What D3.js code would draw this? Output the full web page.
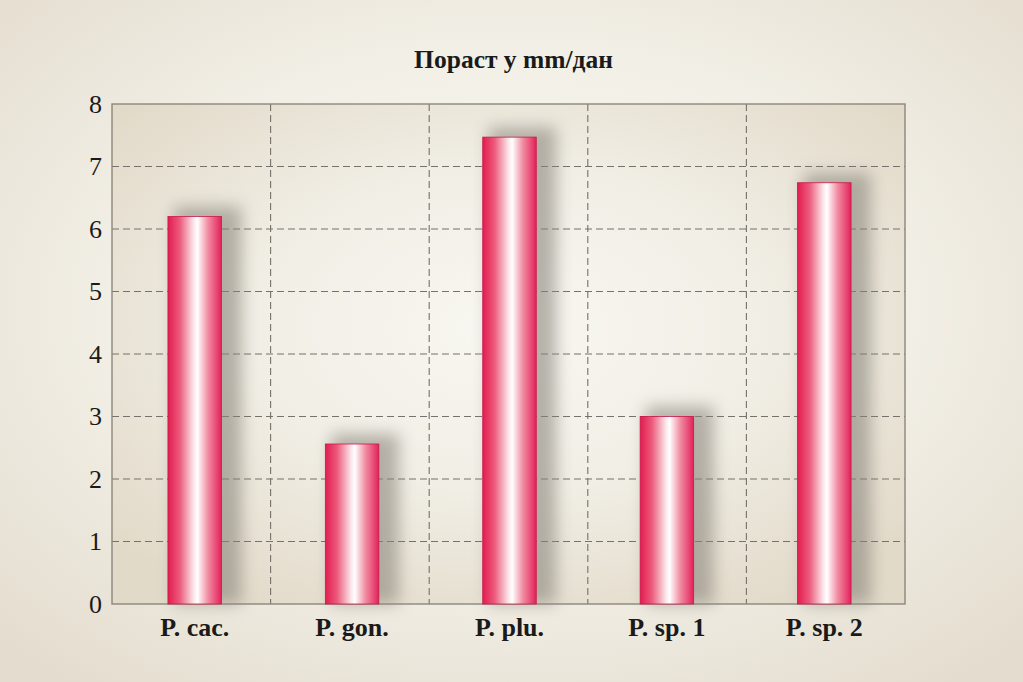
<!DOCTYPE html>
<html><head><meta charset="utf-8">
<script src="https://cdn.jsdelivr.net/npm/d3@7"></script>
<style>html,body{margin:0;padding:0;overflow:hidden;background:#f3f0e8}
text{font-family:"Liberation Serif","Times New Roman","DejaVu Serif",serif}</style>
</head><body>
<script>
const categories = ["P. cac.", "P. gon.", "P. plu.", "P. sp. 1", "P. sp. 2"];
const values = [6.2, 2.56, 7.47, 3.0, 6.74];
const yTicks = [0, 1, 2, 3, 4, 5, 6, 7, 8];
const title = "Пораст у mm/дан";

const W = 1023, H = 682;
const m = {left: 112, right: 118, top: 104, bottom: 78};
const svg = d3.select("body").append("svg").attr("width", W).attr("height", H);
const defs = svg.append("defs");

const bgG = defs.append("radialGradient").attr("id", "bg").attr("cx", "50%").attr("cy", "45%").attr("r", "70%");
bgG.append("stop").attr("offset", "0%").attr("stop-color", "#f9f8f3");
bgG.append("stop").attr("offset", "55%").attr("stop-color", "#f2efe6");
bgG.append("stop").attr("offset", "100%").attr("stop-color", "#e4ddcf");

const plG = defs.append("radialGradient").attr("id", "pl").attr("cx", "50%").attr("cy", "45%").attr("r", "65%");
plG.append("stop").attr("offset", "0%").attr("stop-color", "#f8f7f1");
plG.append("stop").attr("offset", "50%").attr("stop-color", "#f1eee5");
plG.append("stop").attr("offset", "100%").attr("stop-color", "#e2dac9");

const barG = defs.append("linearGradient").attr("id", "bar").attr("x1", "0").attr("x2", "1").attr("y1", "0").attr("y2", "0");
[["0%", "#e21d50"], ["22%", "#ec5a7c"], ["48%", "#fbe6ea"], ["55%", "#ffffff"], ["75%", "#f18ca2"], ["100%", "#e3215a"]]
  .forEach(([o, c]) => barG.append("stop").attr("offset", o).attr("stop-color", c));

const f = defs.append("filter").attr("id", "sh").attr("x", "-60%").attr("y", "-60%").attr("width", "220%").attr("height", "220%");
f.append("feGaussianBlur").attr("stdDeviation", 8);

svg.append("rect").attr("width", W).attr("height", H).attr("fill", "url(#bg)");

const iw = W - m.left - m.right, ih = H - m.top - m.bottom;
const x = d3.scaleBand().domain(categories).range([m.left + 4, m.left + iw - 2]).paddingInner(0.66).paddingOuter(0.33);
const y = d3.scaleLinear().domain([0, 8]).range([m.top + ih, m.top]);

svg.append("rect").attr("x", m.left).attr("y", m.top).attr("width", iw).attr("height", ih).attr("fill", "url(#pl)");

// grid
const step = iw / categories.length;
svg.append("g").selectAll("line").data(yTicks.filter(d => d > 0 && d < 8)).join("line")
  .attr("x1", m.left).attr("x2", m.left + iw).attr("y1", d => y(d)).attr("y2", d => y(d))
  .attr("stroke", "#76716a").attr("stroke-width", 1.1).attr("stroke-dasharray", "7,4");
svg.append("g").selectAll("line").data(d3.range(1, categories.length)).join("line")
  .attr("x1", d => m.left + d * step).attr("x2", d => m.left + d * step)
  .attr("y1", m.top).attr("y2", m.top + ih)
  .attr("stroke", "#76716a").attr("stroke-width", 1.1).attr("stroke-dasharray", "7,4");

// shadows
svg.append("g").selectAll("rect").data(values).join("rect")
  .attr("x", (d, i) => x(categories[i]) + 6).attr("y", d => y(d) - 10)
  .attr("width", x.bandwidth() + 14).attr("height", d => y(0) - y(d) + 10)
  .attr("fill", "#8a857c").attr("opacity", 0.6).attr("filter", "url(#sh)");

svg.append("rect").attr("x", m.left).attr("y", m.top).attr("width", iw).attr("height", ih)
  .attr("fill", "none").attr("stroke", "#8c877d").attr("stroke-width", 1.4);

// bars
svg.append("g").selectAll("rect").data(values).join("rect")
  .attr("x", (d, i) => x(categories[i])).attr("y", d => y(d))
  .attr("width", x.bandwidth()).attr("height", d => y(0) - y(d))
  .attr("fill", "url(#bar)").attr("stroke", "#c8184a").attr("stroke-width", 0.8);

// axes
const yAxis = svg.append("g").attr("transform", `translate(${m.left},0)`)
  .call(d3.axisLeft(y).tickValues(yTicks).tickSize(0).tickPadding(10));
yAxis.attr("font-family", null);
yAxis.select(".domain").remove();
yAxis.selectAll("text").attr("font-size", 26).attr("fill", "#1a1a1a");

const xAxis = svg.append("g").attr("transform", `translate(0,${m.top + ih})`)
  .call(d3.axisBottom(x).tickSize(0).tickPadding(14));
xAxis.attr("font-family", null);
xAxis.select(".domain").remove();
xAxis.selectAll("text").attr("font-size", 26)
  .attr("font-weight", "bold").attr("fill", "#1a1a1a");

svg.append("text").attr("x", m.left + iw / 2 + 5).attr("y", 68).attr("text-anchor", "middle")
  .attr("font-size", 25.5).attr("font-weight", "bold")
  .attr("fill", "#1a1a1a").text(title);
</script>
</body></html>
